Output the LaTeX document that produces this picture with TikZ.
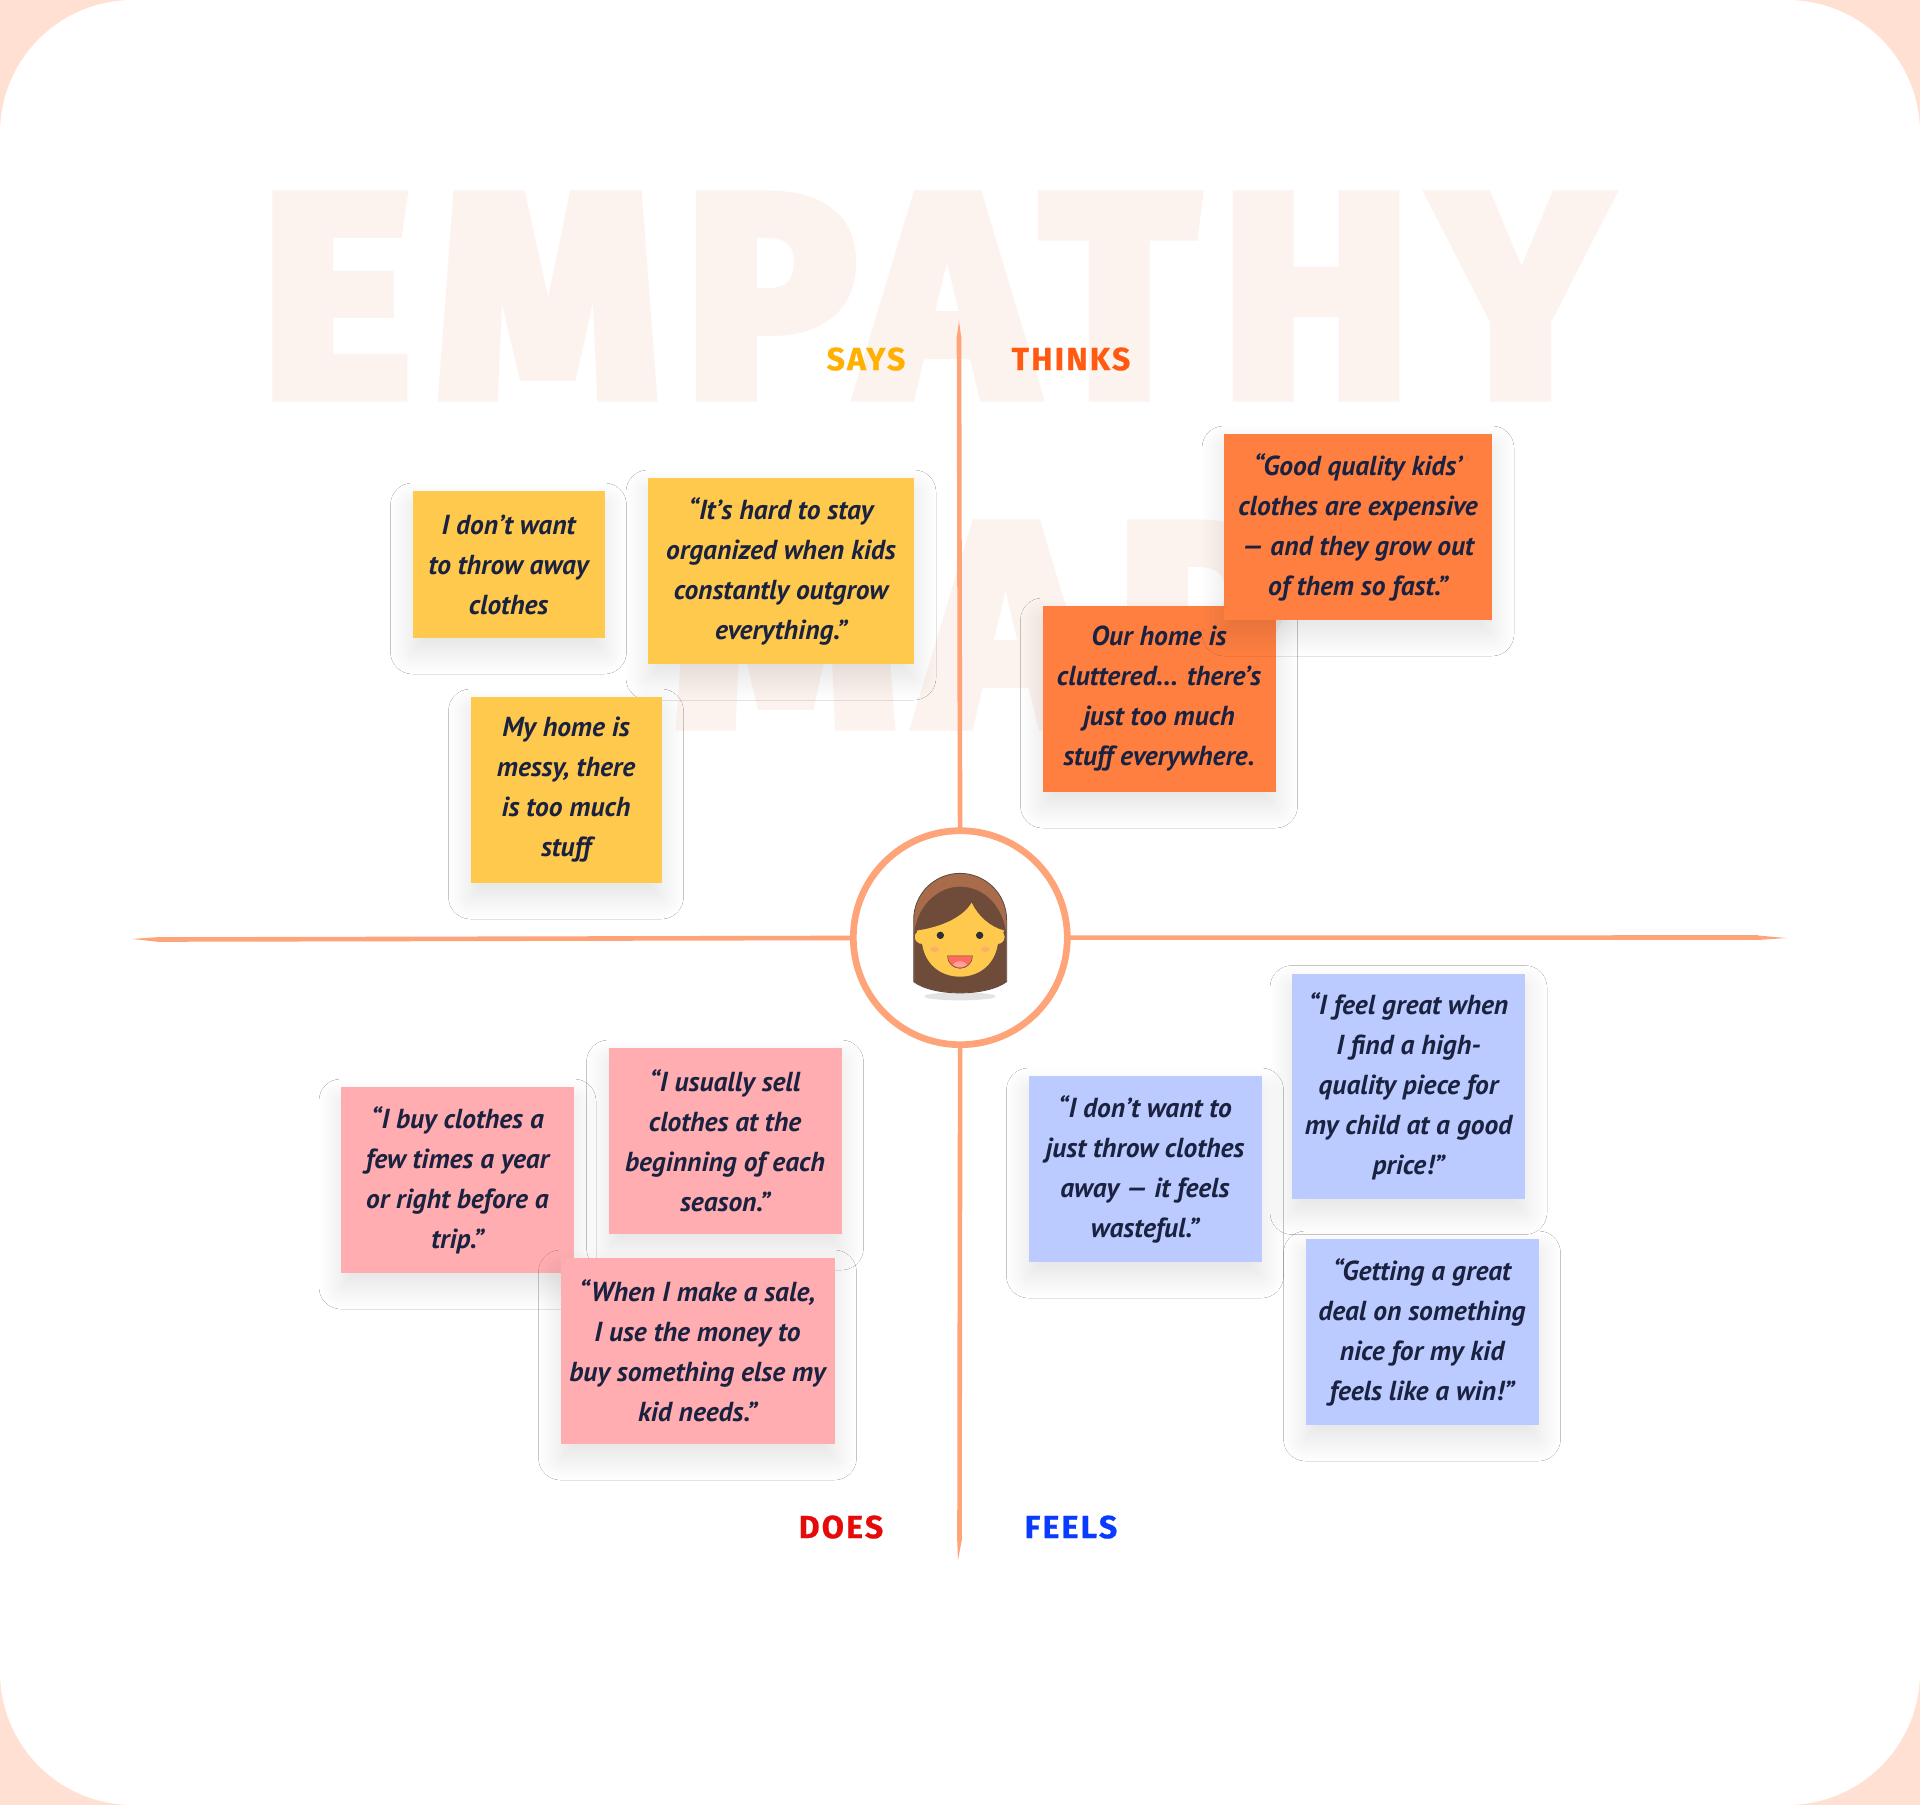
\documentclass[tikz,border=0pt]{standalone}
\usepackage{fontspec}
\usetikzlibrary{shadows.blur,calc}
\newfontfamily\notefont{PT Sans}[ItalicFeatures={FakeStretch=0.92}]
\newfontfamily\lblfont{Fira Sans}[BoldFeatures={LetterSpace=7,FakeBold=0.6}]
\newfontfamily\wmfont{Fira Sans}[BoldFeatures={LetterSpace=9,FakeBold=5}]
\definecolor{pagebg}{HTML}{FFE0D2}
\definecolor{wmcol}{HTML}{FDF3EE}
\definecolor{axiscol}{HTML}{FFA378}
\definecolor{inkcol}{HTML}{1B2240}
\definecolor{notey}{HTML}{FFC94D}
\definecolor{noteo}{HTML}{FF7F41}
\definecolor{notep}{HTML}{FFADB1}
\definecolor{noteb}{HTML}{BBCBFF}
\definecolor{hairlight}{HTML}{A86C4A}
\definecolor{hairdark}{HTML}{6F4C3A}
\definecolor{hairline}{HTML}{5A4A44}
\definecolor{cheek}{HTML}{FFAE6B}
\definecolor{mouthcol}{HTML}{FF6C5C}
\definecolor{tonguecol}{HTML}{FFA29A}
\definecolor{saycol}{HTML}{FFB000}
\definecolor{thinkcol}{HTML}{FF5A10}
\definecolor{doescol}{HTML}{E60B0B}
\definecolor{feelcol}{HTML}{0A3CFF}
\tikzset{
  x=1pt,y=-1pt,
  note/.style n args={3}{draw=none,fill=#1,minimum width=#2pt,minimum height=#3pt,inner sep=0pt,
    align=center,text=inkcol,font=\notefont\bfseries\itshape\fontsize{27.5}{40}\selectfont,
    blur shadow={shadow xshift=0pt,shadow yshift=-14pt,shadow blur radius=22pt,shadow opacity=11,shadow blur steps=14}},
  lbl/.style={inner sep=0pt,font=\lblfont\bfseries\fontsize{32}{36}\selectfont},
  wm/.style={inner sep=0pt,text=wmcol,font=\wmfont\bfseries\fontsize{284}{284}\selectfont},
  axis/.style={draw=axiscol,line width=4.6pt},
  tip/.style={fill=axiscol,draw=none},
  hubstyle/.style={circle,draw=axiscol,line width=6.7pt,fill=white,minimum size=214pt,inner sep=0pt},
}
\begin{document}
\begin{tikzpicture}
\useasboundingbox (0,0) rectangle (1920,1805);
\fill[pagebg] (0,0) rectangle (1920,1805);
\fill[white,rounded corners=133pt] (0,0) rectangle (1920,1805);
% watermark
\node[wm] (wordone) at (933,296) {EMPATHY};
\node[wm] (wordtwo) at (980,625) {MAP};
% hub position and free ends
\coordinate (topend) at (959,321);
\coordinate (botend) at (958,1560);
\coordinate (leftend) at (132,939);
\coordinate (rightend) at (1786,938);
\coordinate (hubc) at (960.3,937.7);
% axes
\draw[axis] (hubc) -- ($(topend)+(0,16)$);
\draw[axis] (hubc) -- ($(botend)+(1.5,-20)$);
\draw[axis] (hubc) -- ($(leftend)+(28,0.5)$);
\draw[axis] (hubc) -- ($(rightend)+(-28,-0.5)$);
\fill[tip] (topend) -- (961.3,338) -- (956.7,338) -- cycle;
\fill[tip] (botend) -- (961.8,1540) -- (957.2,1540) -- cycle;
\fill[tip] (leftend) -- (160,937) -- (160,942) -- cycle;
\fill[tip] (rightend) -- (1758,935.5) -- (1758,940) -- cycle;
\node[hubstyle] (hub) at (hubc) {};
% face
\begin{scope}[shift={(820,800)},x=0.3333pt,y=-0.3333pt]
 \fill[black!11] (420,589) ellipse [x radius=107,y radius=12];
 \path[fill=hairlight,draw=hairline,line width=0.8pt] (281,545) -- (281,360) .. controls (281,280) and (345,220) .. (420,220) .. controls (495,220) and (560,280) .. (560,360) -- (560,545) .. controls (500,590) and (340,590) .. (281,545) -- cycle;
 \path[fill=hairdark] (283,545) -- (283,395) .. controls (295,310) and (360,260) .. (420,260) .. controls (485,260) and (545,310) .. (558,395) -- (558,545) .. controls (500,588) and (340,588) .. (283,545) -- cycle;
 \path[fill=notey,draw=hairline,line width=0.5pt] (307,411) ellipse [x radius=24,y radius=22];
 \path[fill=notey,draw=hairline,line width=0.5pt] (533,411) ellipse [x radius=22,y radius=22];
 \path[fill=notey] (290,392) .. controls (370,380) and (430,350) .. (455,308) .. controls (475,350) and (510,380) .. (553,392) -- (535,420) .. controls (530,490) and (480,530) .. (420,530) .. controls (360,530) and (310,490) .. (305,420) -- cycle;
 \fill[black!82] (361,406) circle [radius=11];
 \fill[black!82] (479,406) circle [radius=11];
 \fill[cheek] (344,448) ellipse [x radius=13,y radius=8];
 \fill[cheek] (496,448) ellipse [x radius=13,y radius=8];
 \path[fill=mouthcol,draw=hairline,line width=0.5pt] (383,468) -- (457,468) .. controls (457,490) and (440,505) .. (420,505) .. controls (400,505) and (383,490) .. (383,468) -- cycle;
 \fill[tonguecol] (399,494) .. controls (408,480) and (432,480) .. (441,494) .. controls (433,504) and (407,504) .. (399,494) -- cycle;
\end{scope}
% labels
\node[lbl,text=saycol] (says) at (866,359) {SAYS};
\node[lbl,text=thinkcol] (thinks) at (1071,359) {THINKS};
\node[lbl,text=doescol] (does) at (841,1527) {DOES};
\node[lbl,text=feelcol] (feels) at (1071,1527) {FEELS};
% notes
\node[note={notey}{192}{147}] (ya) at (508.5,564.5) {I don’t want\\to throw away\\clothes};
\node[note={notey}{266}{186}] (yb) at (781,571) {“It’s hard to stay\\organized when kids\\constantly outgrow\\everything.”};
\node[note={notey}{191}{186}] (yc) at (566,790) {My home is\\messy, there\\is too much\\stuff};
\node[note={noteo}{233}{186}] (ob) at (1159,699) {Our home is\\cluttered... there’s\\just too much\\stuff everywhere.};
\node[note={noteo}{268}{186}] (oa) at (1358,527) {“Good quality kids’\\clothes are expensive\\— and they grow out\\of them so fast.”};
\node[note={notep}{233}{186}] (pa) at (457.5,1180) {“I buy clothes a\\few times a year\\or right before a\\trip.”};
\node[note={notep}{233}{186}] (pb) at (725,1141) {“I usually sell\\clothes at the\\beginning of each\\season.”};
\node[note={notep}{274}{186}] (pc) at (697.5,1351) {“When I make a sale,\\I use the money to\\buy something else my\\kid needs.”};
\node[note={noteb}{233}{186}] (ba) at (1145,1169) {“I don’t want to\\just throw clothes\\away — it feels\\wasteful.”};
\node[note={noteb}{233}{225}] (bb) at (1408.5,1086) {“I feel great when\\I find a high-\\quality piece for\\my child at a good\\price!”};
\node[note={noteb}{233}{186}] (bc) at (1422,1332) {“Getting a great\\deal on something\\nice for my kid\\feels like a win!”};
\end{tikzpicture}
\end{document}
